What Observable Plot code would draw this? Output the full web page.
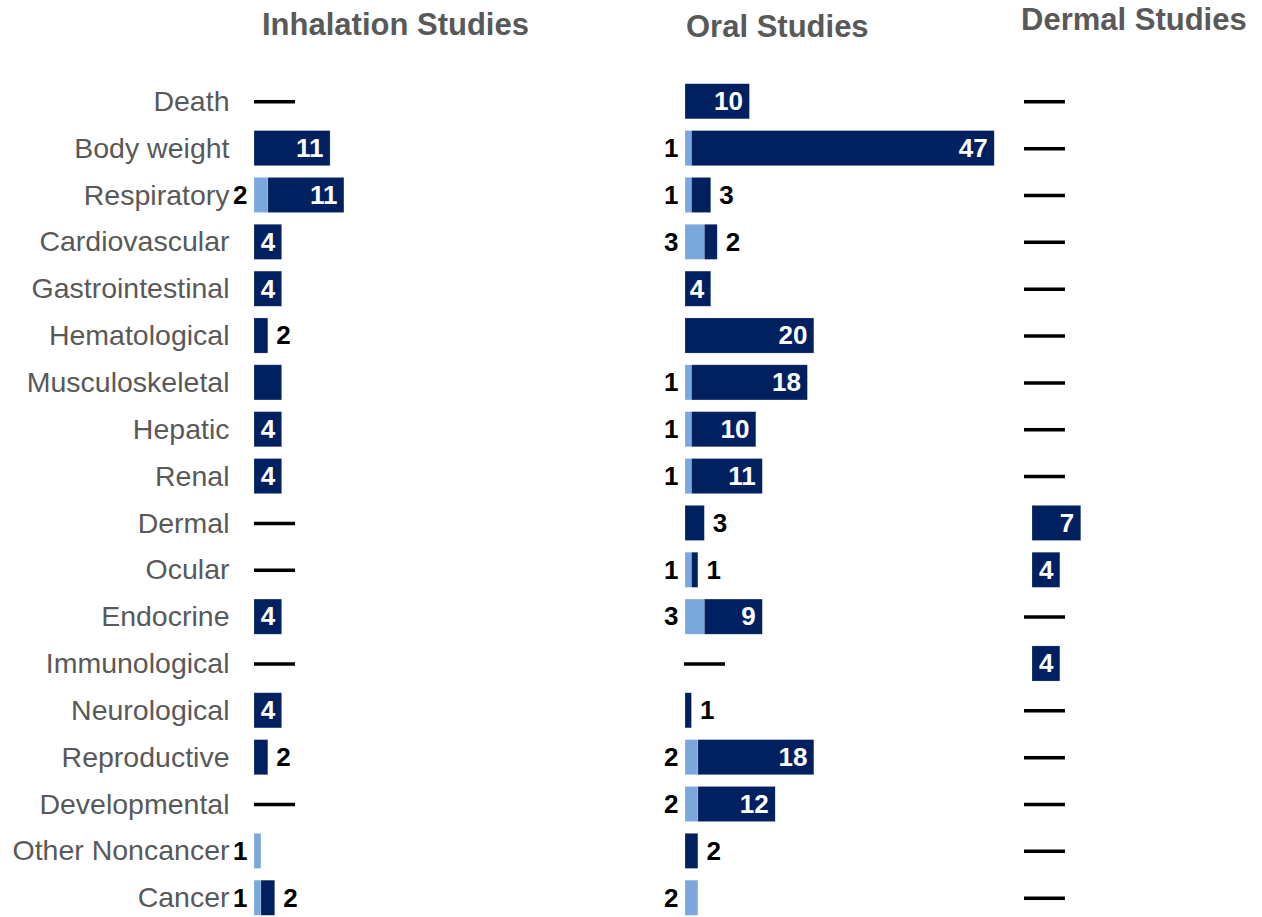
<!DOCTYPE html>
<html>
<head>
<meta charset="utf-8">
<script src="https://cdn.jsdelivr.net/npm/d3@7"></script>
<script src="https://cdn.jsdelivr.net/npm/@observablehq/plot@0.6"></script>
<style>
  html, body { margin: 0; padding: 0; background: #fff; overflow: hidden; }
  #chart { position: relative; width: 1262px; height: 917px; overflow: hidden; font-family: "Liberation Sans", Arial, sans-serif; }
  .panel { position: absolute; top: 0; }
  .title { position: absolute; font-weight: bold; font-size: 31px; line-height: 31px; color: #595959; white-space: nowrap; }
</style>
</head>
<body>
<div id="chart"></div>
<script>
// ---- Data ----
const categories = [
  "Death", "Body weight", "Respiratory", "Cardiovascular", "Gastrointestinal",
  "Hematological", "Musculoskeletal", "Hepatic", "Renal", "Dermal", "Ocular",
  "Endocrine", "Immunological", "Neurological", "Reproductive", "Developmental",
  "Other Noncancer", "Cancer"
];
const panelTitles = ["Inhalation Studies", "Oral Studies", "Dermal Studies"];

const inhalationLight = [0, 0, 2, 0, 0, 0, 0, 0, 0, 0, 0, 0, 0, 0, 0, 0, 1, 1];
const inhalationDark  = [0, 11, 11, 4, 4, 2, 4, 4, 4, 0, 0, 4, 0, 4, 2, 0, 0, 2];
const inhalationUnlabeled = ["Musculoskeletal"];

const oralLight = [0, 1, 1, 3, 0, 0, 1, 1, 1, 0, 1, 3, 0, 0, 2, 2, 0, 2];
const oralDark  = [10, 47, 3, 2, 4, 20, 18, 10, 11, 3, 1, 9, 0, 1, 18, 12, 2, 0];

const dermalLight = [0, 0, 0, 0, 0, 0, 0, 0, 0, 0, 0, 0, 0, 0, 0, 0, 0, 0];
const dermalDark  = [0, 0, 0, 0, 0, 0, 0, 0, 0, 7, 4, 0, 4, 0, 0, 0, 0, 0];

// ---- Styles / layout ----
const LIGHT = "#7AA7DC";
const DARK = "#002060";
const FONT = "'Liberation Sans', Arial, sans-serif";
const H = 927;

const panels = [
  {title: panelTitles[0], light: inhalationLight, dark: inhalationDark, unlabeled: inhalationUnlabeled,
   left: 0, width: 420, marginLeft: 254, xMax: 24, axis: true, dashStart: 0,
   titleLeft: 262, titleTop: 9},
  {title: panelTitles[1], light: oralLight, dark: oralDark, unlabeled: [],
   left: 600, width: 420, marginLeft: 85, xMax: 52, axis: false, dashStart: -1,
   titleLeft: 686, titleTop: 11},
  {title: panelTitles[2], light: dermalLight, dark: dermalDark, unlabeled: [],
   left: 1010, width: 252, marginLeft: 22, xMax: 33, axis: false, dashStart: -8,
   titleLeft: 1021, titleTop: 4}
];

const chart = document.getElementById("chart");

for (const p of panels) {
  const rows = [];
  categories.forEach((c, i) => {
    if (p.light[i] > 0) rows.push({category: c, series: "light", value: p.light[i]});
    if (p.dark[i] > 0) rows.push({category: c, series: "dark", value: p.dark[i]});
  });
  const lightLabels = categories.map((c, i) => ({category: c, value: p.light[i]})).filter(d => d.value > 0);
  const darkAll = categories.map((c, i) => ({category: c, light: p.light[i], dark: p.dark[i], end: p.light[i] + p.dark[i]}))
    .filter(d => d.dark > 0 && !p.unlabeled.includes(d.category));
  const darkInside = darkAll.filter(d => d.dark >= 4);
  const darkOutside = darkAll.filter(d => d.dark < 4);
  const zeros = categories.filter((c, i) => p.light[i] + p.dark[i] === 0).map(c => ({category: c}));

  const plotW = p.width - p.marginLeft;
  const pxPerUnit = plotW / p.xMax;
  const dashX1 = p.dashStart / pxPerUnit;
  const dashX2 = (p.dashStart + 41) / pxPerUnit;

  const marks = [
    Plot.barX(rows, {x: "value", y: "category", fill: "series", stroke: "white", strokeOpacity: 0.35, strokeWidth: 0.6}),
    Plot.ruleY(zeros, {y: "category", x1: dashX1, x2: dashX2, stroke: "black", strokeWidth: 3.5}),
    Plot.text(lightLabels, {x: 0, y: "category", text: d => String(d.value), textAnchor: "end", dx: -7,
      fill: "black", fontSize: 26, fontWeight: "bold"}),
    Plot.text(darkInside, {x: "end", y: "category", text: d => String(d.dark), textAnchor: "end", dx: -7,
      fill: "white", fontSize: 26, fontWeight: "bold"}),
    Plot.text(darkOutside, {x: "end", y: "category", text: d => String(d.dark), textAnchor: "start", dx: 8,
      fill: "black", fontSize: 26, fontWeight: "bold"})
  ];
  if (p.axis) {
    marks.unshift(Plot.axisY({tickSize: 0, tickPadding: 25, fontSize: 28.5, color: "#595959", fontFamily: FONT, label: null}));
  }

  const svg = Plot.plot({
    width: p.width,
    height: H,
    marginLeft: p.marginLeft,
    marginRight: 0,
    marginTop: 72,
    marginBottom: 0,
    style: {fontFamily: FONT, background: "transparent", overflow: "visible"},
    x: {axis: null, domain: [0, p.xMax]},
    y: {axis: null, label: null, domain: categories, padding: 0.25, round: false},
    color: {domain: ["light", "dark"], range: [LIGHT, DARK]},
    marks
  });
  const wrap = document.createElement("div");
  wrap.className = "panel";
  wrap.style.left = p.left + "px";
  wrap.appendChild(svg);
  chart.appendChild(wrap);

  const t = document.createElement("div");
  t.className = "title";
  t.textContent = p.title;
  t.style.left = p.titleLeft + "px";
  t.style.top = p.titleTop + "px";
  chart.appendChild(t);
}
</script>
</body>
</html>
